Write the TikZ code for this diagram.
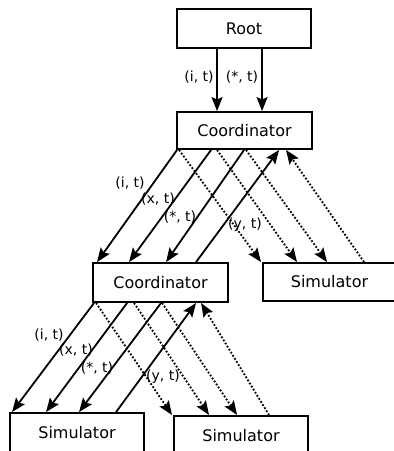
\documentclass[tikz,border=0pt]{standalone}
\usepackage{fontspec}
\setmainfont{DejaVu Sans}
\usetikzlibrary{arrows.meta}
\begin{document}
\begin{tikzpicture}[x=1pt,y=-1pt,
  box/.style={draw,line width=1.9pt,minimum height=#1,inner sep=0pt,font=\fontsize{16}{18}\selectfont},
  box/.default=38pt,
  arr/.style={line width=1.8pt,-{Stealth[length=14pt,width=11pt,inset=2.5pt]}},
  dotarr/.style={arr,dash pattern=on 1.8pt off 1.8pt},
  lbl/.style={font=\fontsize{14}{16}\selectfont,inner sep=0pt}]
\useasboundingbox (0,0) rectangle (394,451);
\node[box=39pt,minimum width=134pt] (root) at (244,28.5) {Root};
\node[box=37pt,minimum width=135pt] (c1) at (244.5,130.5) {Coordinator};
\node[box=39pt,minimum width=135pt] (c2) at (160.5,282.5) {Coordinator};
\node[box=38pt,minimum width=133pt] (sr) at (329.5,282) {Simulator};
\node[box=40pt,minimum width=134pt] (sbl) at (77,433) {Simulator};
\node[box=40pt,minimum width=134pt] (sbr) at (241,436) {Simulator};
% root to coordinator
\draw[arr] ([xshift=41pt]root.south west) -- ([xshift=41pt]c1.north west);
\draw[arr] ([xshift=86pt]root.south west) -- ([xshift=86pt]c1.north west);
\node[lbl] (l0a) at (199,77) {(i, t)};
\node[lbl] (l0b) at (242,77) {(*, t)};
% coordinator to coordinator
\draw[arr] ([xshift=1pt]c1.south west) -- ([xshift=5pt]c2.north west);
\draw[arr] ([xshift=35pt]c1.south west) -- ([xshift=37pt]c2.north west);
\draw[arr] ([xshift=68pt]c1.south west) -- ([xshift=74pt]c2.north west);
\draw[arr] ([xshift=104pt]c2.north west) -- ([xshift=103pt]c1.south west);
% coordinator to right simulator
\draw[dotarr] ([xshift=3pt]c1.south west) -- ([xshift=-1pt]sr.north west);
\draw[dotarr] ([xshift=41pt]c1.south west) -- ([xshift=35pt]sr.north west);
\draw[dotarr] ([xshift=70pt]c1.south west) -- ([xshift=65pt]sr.north west);
\draw[dotarr] ([xshift=102pt]sr.north west) -- ([xshift=110pt]c1.south west);
\node[lbl] (l1a) at (130,183) {(i, t)};
\node[lbl] (l1b) at (158,199) {(x, t)};
\node[lbl] (l1c) at (180,217) {(*, t)};
\node[lbl] (l1d) at (245,225) {(y, t)};
% coordinator to bottom-left simulator
\draw[arr] ([xshift=2pt]c2.south west) -- ([xshift=3pt]sbl.north west);
\draw[arr] ([xshift=35pt]c2.south west) -- ([xshift=37pt]sbl.north west);
\draw[arr] ([xshift=69pt]c2.south west) -- ([xshift=70pt]sbl.north west);
\draw[arr] ([xshift=107pt]sbl.north west) -- ([xshift=104pt]c2.south west);
% coordinator to bottom-right simulator
\draw[dotarr] ([xshift=4pt]c2.south west) -- ([xshift=-1pt]sbr.north west);
\draw[dotarr] ([xshift=42pt]c2.south west) -- ([xshift=36pt]sbr.north west);
\draw[dotarr] ([xshift=70pt]c2.south west) -- ([xshift=64pt]sbr.north west);
\draw[dotarr] ([xshift=96pt]sbr.north west) -- ([xshift=109pt]c2.south west);
\node[lbl] (l2a) at (49,335) {(i, t)};
\node[lbl] (l2b) at (76,350) {(x, t)};
\node[lbl] (l2c) at (97,368) {(*, t)};
\node[lbl] (l2d) at (163,377) {(y, t)};
\end{tikzpicture}
\end{document}
